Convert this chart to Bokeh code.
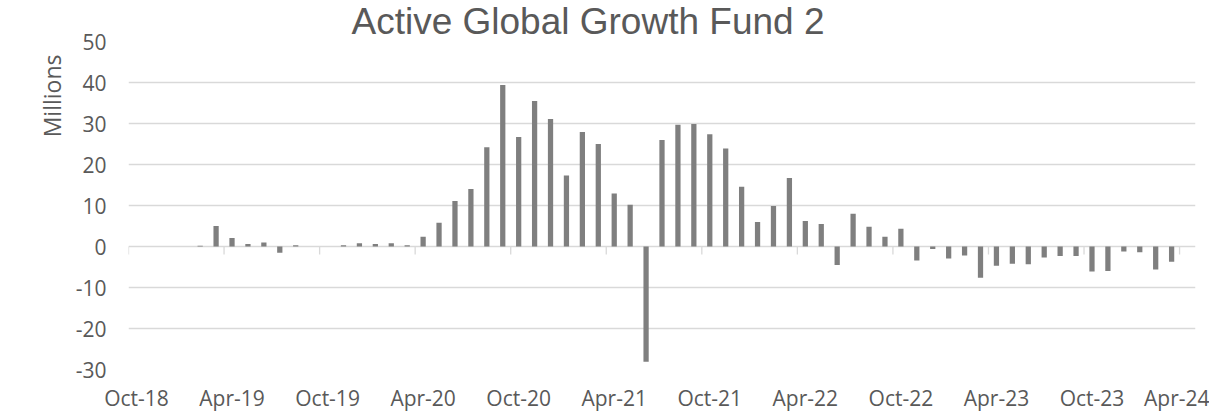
import pandas as pd
from bokeh.plotting import figure
from bokeh.models import Range1d, FixedTicker, Title
from bokeh.embed import file_html
from bokeh.resources import INLINE

# Monthly periods Oct-18 .. Apr-24
months = [d.strftime("%b-%y") for d in pd.period_range("2018-10", "2024-04", freq="M")]

# Net flows (millions), one per month
values = [
    0.0, 0.0, 0.0,                                              # Oct-18 .. Dec-18
    0.0, 0.2, 5.0, 2.1, 0.6, 1.0, -1.5, 0.3, 0.0, 0.0, 0.3, 0.8,  # 2019
    0.6, 0.8, 0.3, 2.4, 5.8, 11.1, 14.0, 24.2, 39.4, 26.7, 35.5, 31.1,  # 2020
    17.3, 27.9, 25.0, 12.9, 10.2, -28.1, 26.0, 29.7, 29.9, 27.4, 23.9, 14.6,  # 2021
    6.0, 9.9, 16.7, 6.2, 5.5, -4.5, 8.0, 4.8, 2.4, 4.3, -3.4, -0.6,  # 2022
    -2.9, -2.2, -7.6, -4.7, -4.2, -4.3, -2.7, -2.3, -2.3, -6.1, -6.0, -1.2,  # 2023
    -1.4, -5.6, -3.7, 0.0,                                       # 2024
]

y_ticks = [-30, -20, -10, 0, 10, 20, 30, 40, 50]
y_tick_labels = ["-30", "-20", "-10", "0", "10", "20", "30", "40", "50"]
label_step = 6

title_text = "Active Global Growth Fund 2"
y_label = "Millions"

GRID = "#d9d9d9"
TXT = "#595959"
BAR = "#7f7f7f"

n = len(months)
x_centers = [i + 0.5 for i in range(n)]

p = figure(width=1209, height=414, output_backend="svg", toolbar_location=None,
           x_range=Range1d(0, n), y_range=Range1d(y_ticks[0], y_ticks[-1]),
           min_border_left=128, min_border_right=14, min_border_top=41, min_border_bottom=44)
p.outline_line_color = None
p.background_fill_color = "white"
p.border_fill_color = "white"

p.vbar(x=x_centers, top=values, bottom=0, width=0.33, fill_color=BAR, line_color=None)

# x tick marks at the axis (y = 0), every 6 months
tick_pos = list(range(0, n, label_step))
px_per_unit = (414 - 41 - 44) / (y_ticks[-1] - y_ticks[0])
tick_len = 8 / px_per_unit
p.segment(x0=tick_pos, x1=tick_pos, y0=[0] * len(tick_pos), y1=[-tick_len] * len(tick_pos),
          line_color=GRID, line_width=1.3)

# axes
xa = p.xaxis[0]
lab_pos = [i + 0.5 for i in tick_pos]
xa.ticker = FixedTicker(ticks=lab_pos)
xa.major_label_overrides = {pos: months[i] for pos, i in zip(lab_pos, tick_pos)}
xa.axis_line_color = None
xa.major_tick_line_color = None
xa.major_tick_in = 0
xa.major_tick_out = 0
xa.minor_tick_line_color = None
xa.major_label_text_font = "Open Sans"
xa.major_label_text_font_size = "21px"
xa.major_label_text_color = TXT
xa.major_label_standoff = 14

ya = p.yaxis[0]
ya.ticker = FixedTicker(ticks=y_ticks)
ya.major_label_overrides = dict(zip(y_ticks, y_tick_labels))
ya.axis_line_color = None
ya.major_tick_line_color = None
ya.major_tick_in = 0
ya.major_tick_out = 0
ya.minor_tick_line_color = None
ya.major_label_text_font = "Open Sans"
ya.major_label_text_font_size = "21px"
ya.major_label_text_color = TXT
ya.major_label_standoff = 22

p.xgrid.grid_line_color = None
p.ygrid.ticker = FixedTicker(ticks=y_ticks)
p.ygrid.grid_line_color = GRID
p.ygrid.grid_line_width = 1.3

p.title.text = title_text
p.title.text_font = "Liberation Sans"
p.title.text_font_size = "37px"
p.title.text_font_style = "normal"
p.title.text_color = TXT
p.title.align = "left"
p.title.offset = 223
p.title.vertical_align = "top"
p.title.standoff = -5

yl = Title(text=y_label, align="right", text_font="Open Sans", text_font_size="23px",
           text_font_style="normal", text_color=TXT, offset=13, standoff=9)
p.add_layout(yl, "left")

open("out.html", "w").write(file_html(p, INLINE))
